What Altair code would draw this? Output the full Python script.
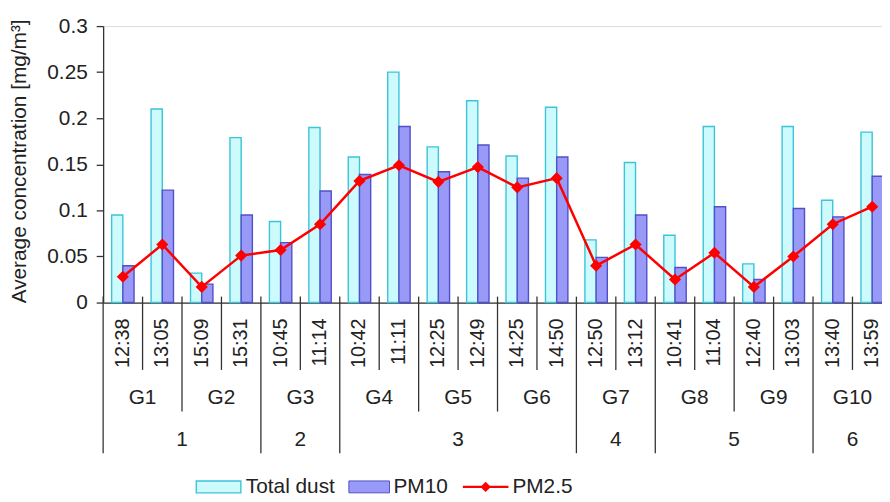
import altair as alt
import pandas as pd

# ---- data ----
times = ["12:38", "13:05", "15:09", "15:31", "10:45", "11:14", "10:42", "11:11",
         "12:25", "12:49", "14:25", "14:50", "12:50", "13:12", "10:41", "11:04",
         "12:40", "13:03", "13:40", "13:59"]
g_of_time = ["G1", "G1", "G2", "G2", "G3", "G3", "G4", "G4", "G5", "G5",
             "G6", "G6", "G7", "G7", "G8", "G8", "G9", "G9", "G10", "G10"]
n_of_time = ["1", "1", "1", "1", "2", "2", "3", "3", "3", "3",
             "3", "3", "4", "4", "5", "5", "5", "5", "6", "6"]
total_dust = [0.095, 0.210, 0.032, 0.179, 0.088, 0.190, 0.158, 0.250, 0.169, 0.219,
              0.159, 0.212, 0.068, 0.152, 0.073, 0.191, 0.042, 0.191, 0.111, 0.185]
pm10 = [0.040, 0.122, 0.020, 0.095, 0.065, 0.121, 0.139, 0.191, 0.142, 0.171,
        0.135, 0.158, 0.049, 0.095, 0.038, 0.104, 0.025, 0.102, 0.093, 0.137]
pm25 = [0.028, 0.063, 0.017, 0.051, 0.057, 0.085, 0.132, 0.149, 0.131, 0.147,
        0.125, 0.135, 0.040, 0.063, 0.025, 0.054, 0.017, 0.050, 0.085, 0.104]
bar_series = ["Total dust", "PM10"]
y_ticks = [0, 0.05, 0.1, 0.15, 0.2, 0.25, 0.3]

FONT = "Liberation Sans"
TXT = "#222222"
LINE = "#333333"

bars_df = pd.DataFrame(
    [{"time": t, "series": "Total dust", "value": v} for t, v in zip(times, total_dust)]
    + [{"time": t, "series": "PM10", "value": v} for t, v in zip(times, pm10)]
)
line_df = pd.DataFrame({"time": times, "value": pm25})

# separators: level of boundary at the start of each time category
sep_rows = []
for i, t in enumerate(times):
    if i == 0 or n_of_time[i] != n_of_time[i - 1]:
        lvl = "num"
    elif g_of_time[i] != g_of_time[i - 1]:
        lvl = "g"
    else:
        lvl = "time"
    sep_rows.append({"time": t, "level": lvl})
sep_df = pd.DataFrame(sep_rows)

# group label anchors: boundary at the middle of each group
def group_anchor(keys):
    rows = []
    seen = []
    for k in keys:
        if k not in seen:
            seen.append(k)
    for k in seen:
        idx = [i for i, kk in enumerate(keys) if kk == k]
        mid = idx[0] + len(idx) // 2
        rows.append({"label": k, "time": times[mid]})
    return pd.DataFrame(rows)

g_df = group_anchor(g_of_time)
n_df = group_anchor(n_of_time)
t_df = pd.DataFrame({"time": times})

W, H = 786, 279
x_scale = alt.Scale(domain=times, range=[0, 796], paddingInner=0, paddingOuter=0)
y_scale = alt.Scale(domain=[0, 0.3], nice=False)

x_enc = alt.X("time:N", sort=times, scale=x_scale,
              axis=alt.Axis(labels=False, ticks=False, title=None, domainColor=LINE,
                            domainWidth=1.3, grid=False))

bars = alt.Chart(bars_df).mark_bar(strokeWidth=1.4).encode(
    x=x_enc,
    xOffset=alt.XOffset("series:N", sort=bar_series,
                        scale=alt.Scale(domain=bar_series, paddingInner=0, paddingOuter=0.76)),
    y=alt.Y("value:Q", scale=y_scale,
            axis=alt.Axis(values=y_ticks, format="~g", title="Average concentration [mg/m³]",
                          titleFont=FONT, titleFontSize=21, titleFontWeight="normal",
                          titleColor=TXT, titleX=-84, titleY=136, titleBaseline="middle",
                          labelFont=FONT, labelFontSize=21, labelColor=TXT, labelPadding=9,
                          tickSize=7, tickColor=LINE, domainColor=LINE, domainWidth=1.3,
                          tickWidth=1.3, grid=False)),
    fill=alt.Fill("series:N", scale=alt.Scale(domain=bar_series, range=["#ccfafd", "#9999f8"]),
                  legend=None),
    stroke=alt.Stroke("series:N", scale=alt.Scale(domain=bar_series, range=["#3cc4d8", "#5050c8"]),
                      legend=None),
)

line = alt.Chart(line_df).mark_line(color="#ff0000", strokeWidth=2.5).encode(
    x=alt.X("time:N", sort=times, scale=x_scale), y=alt.Y("value:Q", scale=y_scale)
)
pts = alt.Chart(line_df).mark_point(shape="diamond", filled=True, size=150, color="#ff0000",
                                    opacity=1).encode(
    x=alt.X("time:N", sort=times, scale=x_scale), y=alt.Y("value:Q", scale=y_scale)
)

seps = []
for lvl, y2 in [("time", 347), ("g", 389), ("num", 431)]:
    seps.append(
        alt.Chart(sep_df).transform_filter(alt.datum.level == lvl)
        .mark_rule(color=LINE, strokeWidth=1.3)
        .encode(x=alt.X("time:N", sort=times, scale=x_scale, bandPosition=0),
                y=alt.value(273), y2=alt.value(y2))
    )

time_labels = alt.Chart(t_df).mark_text(angle=270, align="right", baseline="middle",
                                        font=FONT, fontSize=20, color=TXT).encode(
    x=alt.X("time:N", sort=times, scale=x_scale), y=alt.value(295), text="time:N"
)
g_labels = alt.Chart(g_df).mark_text(align="center", baseline="middle", font=FONT,
                                     fontSize=21, color=TXT).encode(
    x=alt.X("time:N", sort=times, scale=x_scale, bandPosition=0), y=alt.value(375),
    text="label:N"
)
n_labels = alt.Chart(n_df).mark_text(align="center", baseline="middle", font=FONT,
                                     fontSize=21, color=TXT).encode(
    x=alt.X("time:N", sort=times, scale=x_scale, bandPosition=0), y=alt.value(418),
    text="label:N"
)

# manual legend
LY = 465
LFS = 21
leg = [
    alt.Chart().mark_rect(fill="#ccfafd", stroke="#3cc4d8", strokeWidth=1.4).encode(
        x=alt.value(94), x2=alt.value(139), y=alt.value(LY - 6), y2=alt.value(LY + 6)),
    alt.Chart().mark_text(align="left", baseline="middle", font=FONT, fontSize=LFS,
                          color=TXT, text="Total dust").encode(x=alt.value(144), y=alt.value(LY)),
    alt.Chart().mark_rect(fill="#9999f8", stroke="#5050c8", strokeWidth=1).encode(
        x=alt.value(248), x2=alt.value(289), y=alt.value(LY - 6), y2=alt.value(LY + 6)),
    alt.Chart().mark_text(align="left", baseline="middle", font=FONT, fontSize=LFS,
                          color=TXT, text="PM10").encode(x=alt.value(293), y=alt.value(LY)),
    alt.Chart().mark_rule(color="#ff0000", strokeWidth=2.5).encode(
        x=alt.value(363), x2=alt.value(409), y=alt.value(LY)),
    alt.Chart().mark_point(shape="diamond", filled=True, size=110, color="#ff0000",
                           opacity=1).encode(x=alt.value(386), y=alt.value(LY)),
    alt.Chart().mark_text(align="left", baseline="middle", font=FONT, fontSize=LFS,
                          color=TXT, text="PM2.5").encode(x=alt.value(413), y=alt.value(LY)),
]

chart = alt.layer(bars, line, pts, *seps, time_labels, g_labels, n_labels, *leg).properties(
    width=W, height=H,
    autosize=alt.AutoSizeParams(type="none"),
    padding={"left": 96, "top": 16, "right": 0, "bottom": 199},
).configure_view(stroke=None).configure(background="white")

chart.save("out.html", embed_options={"renderer": "svg", "actions": False})
